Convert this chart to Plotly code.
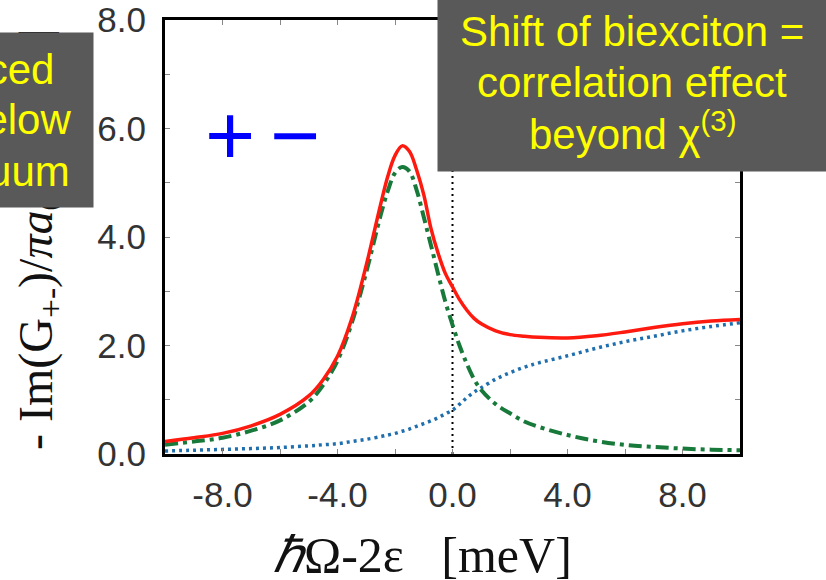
import plotly.graph_objects as go

# ---- data ----
energy = [-10, -9, -8, -7, -6, -5, -4.5, -4, -3.5, -3, -2.5, -2.25, -2, -1.75, -1.5,
          -1.25, -1, -0.75, -0.5, -0.25, 0, 0.25, 0.5, 0.75, 1, 1.5, 2, 2.5, 3, 4, 5,
          6, 7, 8, 9, 10]
total = [0.23, 0.30, 0.38, 0.52, 0.73, 1.07, 1.37, 1.80, 2.50, 3.48, 4.60, 5.12, 5.50,
         5.68, 5.58, 5.24, 4.78, 4.16, 3.70, 3.33, 3.08, 2.84, 2.65, 2.50, 2.40, 2.27,
         2.20, 2.17, 2.15, 2.14, 2.18, 2.25, 2.33, 2.40, 2.45, 2.48]
biexciton = [0.17, 0.23, 0.30, 0.43, 0.62, 0.96, 1.27, 1.72, 2.42, 3.35, 4.40, 4.85,
             5.18, 5.29, 5.21, 4.87, 4.37, 3.85, 3.32, 2.81, 2.38, 1.99, 1.66, 1.38,
             1.18, 0.92, 0.75, 0.60, 0.50, 0.35, 0.24, 0.17, 0.13, 0.10, 0.08, 0.07]
continuum = [0.055, 0.07, 0.085, 0.10, 0.12, 0.15, 0.17, 0.19, 0.23, 0.27, 0.32, 0.35,
             0.38, 0.42, 0.46, 0.51, 0.56, 0.61, 0.67, 0.74, 0.81, 0.92, 1.04, 1.14,
             1.22, 1.38, 1.50, 1.60, 1.68, 1.81, 1.95, 2.07, 2.17, 2.27, 2.35, 2.42]
zero_line_x = [0, 0]
zero_line_y = [0, 8]

x_ticks = [-8, -4, 0, 4, 8]
x_tick_labels = ["-8.0", "-4.0", "0.0", "4.0", "8.0"]
y_ticks = [0, 2, 4, 6, 8]
y_tick_labels = ["0.0", "2.0", "4.0", "6.0", "8.0"]

left_box_lines = ["Induced", "just below", "continuum"]
right_box_lines = ["Shift of biexciton =", "correlation effect", "beyond χ<sup>(3)</sup>"]

W, H = 826, 580
ML, MR, MT, MB = 165, 86, 20, 126
PW, PH = W - ML - MR, H - MT - MB


def px(xp):
    return (xp - ML) / PW


def py(yp):
    return (H - MB - yp) / PH


fig = go.Figure()
fig.add_trace(go.Scatter(x=zero_line_x, y=zero_line_y, mode="lines",
                         line=dict(color="black", width=2, dash="2px,4px"),
                         hoverinfo="skip"))
fig.add_trace(go.Scatter(x=energy, y=continuum, mode="lines",
                         line=dict(color="#1f6fae", width=3.5, dash="3px,4px",
                                   shape="spline")))
fig.add_trace(go.Scatter(x=energy, y=biexciton, mode="lines",
                         line=dict(color="#177a3a", width=4, dash="13px,5px,4px,5px",
                                   shape="spline")))
fig.add_trace(go.Scatter(x=energy, y=total, mode="lines",
                         line=dict(color="#ff1a10", width=3.5, shape="spline")))

tickfont = dict(family="Liberation Sans, Arial, sans-serif", size=35, color="#333333")
axis_common = dict(showgrid=False, zeroline=False, showline=True, linecolor="black",
                   linewidth=3, mirror="ticks", ticks="inside", ticklen=5,
                   tickwidth=1, tickcolor="#888888", tickfont=tickfont,
                   automargin=False)

fig.update_xaxes(range=[-10, 10], tickmode="array", tickvals=x_ticks,
                 ticktext=x_tick_labels, ticklabelstandoff=8,
                 minor=dict(tickmode="linear", tick0=0, dtick=2, ticks="inside",
                            ticklen=5, tickcolor="#888888", tickwidth=1),
                 **axis_common)
fig.update_yaxes(range=[0, 8], tickmode="array", tickvals=y_ticks,
                 ticktext=y_tick_labels, ticklabelstandoff=9,
                 minor=dict(tickmode="linear", tick0=0, dtick=1, ticks="inside",
                            ticklen=5, tickcolor="#888888", tickwidth=1),
                 **axis_common)

serif = "Liberation Serif, Times New Roman, serif"
sans = "Liberation Sans, Arial, sans-serif"
box_font = dict(family=sans, size=42, color="#ffff00")
annotations = [
    # y-axis title
    dict(x=px(35), y=py(239), xref="paper", yref="paper", textangle=-90,
         text="- Im(G<sub>+-</sub>)/<i>πa</i><sub>0</sub> [meV<sup>-1</sup>]",
         showarrow=False, font=dict(family=serif, size=48, color="#111111"),
         xanchor="center", yanchor="middle"),
    # x-axis title
    dict(x=px(422.5), y=py(555), xref="paper", yref="paper",
         text="<i>ℏ</i>Ω-2ε&nbsp;&nbsp;&nbsp;[meV]", showarrow=False,
         font=dict(family=serif, size=50, color="#111111"),
         xanchor="center", yanchor="middle"),
    # + and − symbols
    dict(x=px(230), y=py(135), xref="paper", yref="paper", text="+",
         showarrow=False, font=dict(family=sans, size=86, color="#0000ff"),
         xanchor="center", yanchor="middle"),
    dict(x=px(295), y=py(135), xref="paper", yref="paper", text="−",
         showarrow=False, font=dict(family=sans, size=86, color="#0000ff"),
         xanchor="center", yanchor="middle"),
    # left box background (partly outside the canvas)
    dict(x=px(-28.5), y=py(120), xref="paper", yref="paper", text="&nbsp;",
         showarrow=False, bgcolor="#595959", width=243, height=174, borderpad=0,
         xanchor="center", yanchor="middle"),
    # right box background
    dict(x=px(669), y=py(70.5), xref="paper", yref="paper", text="&nbsp;",
         showarrow=False, bgcolor="#595959", width=462, height=201, borderpad=0,
         xanchor="center", yanchor="middle"),
]
# left box text lines (right ends as seen at the canvas edge)
for line, xr, yb in zip(left_box_lines, [55, 72, 71], [94, 144, 195.7]):
    annotations.append(dict(x=px(xr), y=py(yb), xref="paper", yref="paper", text=line,
                            showarrow=False, font=box_font, borderpad=0,
                            xanchor="right", yanchor="bottom"))
# right box text lines (centered)
for line, yb in zip(right_box_lines, [55.7, 107.3, 159]):
    annotations.append(dict(x=px(632), y=py(yb), xref="paper", yref="paper", text=line,
                            showarrow=False, font=box_font, borderpad=0,
                            xanchor="center", yanchor="bottom"))

fig.update_layout(width=W, height=H, margin=dict(l=ML, r=MR, t=MT, b=MB),
                  plot_bgcolor="white", paper_bgcolor="white", showlegend=False,
                  annotations=annotations)

fig.write_html("out.html", config={"displayModeBar": False},
               post_script="document.body.style.margin='0';")
